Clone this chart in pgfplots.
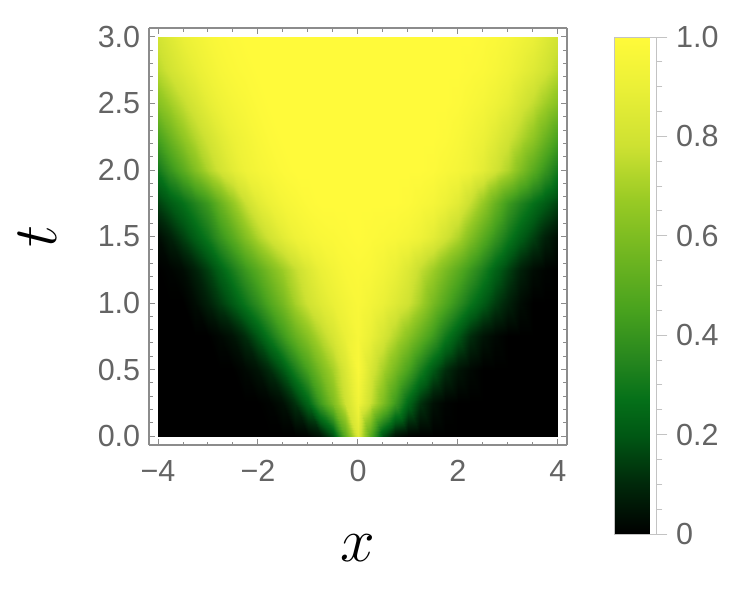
\documentclass[border=0pt]{standalone}
\usepackage{pgfplots}
\pgfplotsset{compat=1.18}
\usepackage{fontspec}
\setmainfont{Liberation Sans}
\definecolor{framegray}{RGB}{140,140,140}
\definecolor{labgray}{RGB}{100,100,100}
\definecolor{cbgray}{RGB}{195,195,195}

\begin{document}
\begin{tikzpicture}
\useasboundingbox (-59.6pt,-66.4pt) rectangle (239.2pt,178pt);
\begin{axis}[
    view={0}{90},
    scale only axis, width=167.2pt, height=166.8pt,
    xmin=-4, xmax=4, ymin=0, ymax=3, zmin=0, zmax=1,
    enlarge x limits=0.0225, enlarge y limits=0.0225,
    xtick={-4,-2,0,2,4}, xticklabels={−4,−2,0,2,4},
    ytick={0,0.5,1,1.5,2,2.5,3}, yticklabels={0.0,0.5,1.0,1.5,2.0,2.5,3.0},
    ztick=\empty,
    minor x tick num=3, minor y tick num=4,
    tick align=inside, xtick pos=both, ytick pos=both,
    major tick length=2.4pt, minor tick length=1.4pt,
    every tick/.style={framegray, line width=0.4pt},
    axis line style={framegray, line width=0.6pt},
    tick label style={font=\fontsize{12.2}{14}\selectfont, text=labgray},
    xticklabel style={yshift=-2.6pt},
    xlabel={$x$}, ylabel={$t$},
    xlabel style={font=\fontsize{23}{23}\selectfont, at={(axis description cs:0.5,-0.247)}, anchor=center},
    ylabel style={font=\fontsize{23}{23}\selectfont, at={(axis description cs:-0.268,0.5)}, anchor=center},
    colormap={avocado}{rgb255(0cm)=(0,0,0) rgb255(1cm)=(0,40,10) rgb255(2cm)=(0,88,20)
        rgb255(2.7cm)=(5,112,25) rgb255(3.5cm)=(38,134,30) rgb255(4.5cm)=(72,162,30)
        rgb255(5.5cm)=(108,180,32) rgb255(6.7cm)=(152,202,36) rgb255(7.8cm)=(205,225,50)
        rgb255(9cm)=(235,240,55) rgb255(10cm)=(255,250,58)},
    point meta min=0, point meta max=1,
    colorbar,
    colorbar style={
        at={(parent axis.north east)}, anchor=north west,
        xshift=10.4pt, yshift=-3.6pt,
        scale only axis, width=16.8pt, height=198.8pt,
        ytick={0,0.2,0.4,0.6,0.8,1}, yticklabels={0,0.2,0.4,0.6,0.8,1.0},
        minor y tick num=3,
        tick align=outside, ytick pos=right,
        major tick length=4.4pt, minor tick length=2.4pt,
        every tick/.style={cbgray, line width=0.4pt},
        axis line style={cbgray, line width=0.4pt},
        yticklabel style={font=\fontsize{12.2}{14}\selectfont, text=labgray},
    },
]
% density on a 0.25 x 0.25 grid (symmetric in x)
\addplot3[surf, shader=interp, mesh/rows=13, mesh/cols=33] coordinates {
(-4,0,0)(-3.75,0,0)(-3.5,0,0)(-3.25,0,0)(-3,0,0)(-2.75,0,0)(-2.5,0,0)(-2.25,0,0)(-2,0,0)(-1.75,0,0)(-1.5,0,0)(-1.25,0,0)(-1,0,0.01)(-0.75,0,0.05)(-0.5,0,0.18)(-0.25,0,0.50)(0,0,0.85)(0.25,0,0.50)(0.5,0,0.18)(0.75,0,0.05)(1,0,0.01)(1.25,0,0)(1.5,0,0)(1.75,0,0)(2,0,0)(2.25,0,0)(2.5,0,0)(2.75,0,0)(3,0,0)(3.25,0,0)(3.5,0,0)(3.75,0,0)(4,0,0)
(-4,0.25,0)(-3.75,0.25,0)(-3.5,0.25,0)(-3.25,0.25,0)(-3,0.25,0)(-2.75,0.25,0)(-2.5,0.25,0)(-2.25,0.25,0)(-2,0.25,0)(-1.75,0.25,0.01)(-1.5,0.25,0.04)(-1.25,0.25,0.12)(-1,0.25,0.24)(-0.75,0.25,0.42)(-0.5,0.25,0.60)(-0.25,0.25,0.78)(0,0.25,0.93)(0.25,0.25,0.78)(0.5,0.25,0.60)(0.75,0.25,0.42)(1,0.25,0.24)(1.25,0.25,0.12)(1.5,0.25,0.04)(1.75,0.25,0.01)(2,0.25,0)(2.25,0.25,0)(2.5,0.25,0)(2.75,0.25,0)(3,0.25,0)(3.25,0.25,0)(3.5,0.25,0)(3.75,0.25,0)(4,0.25,0)
(-4,0.5,0)(-3.75,0.5,0)(-3.5,0.5,0)(-3.25,0.5,0)(-3,0.5,0)(-2.75,0.5,0)(-2.5,0.5,0)(-2.25,0.5,0.02)(-2,0.5,0.05)(-1.75,0.5,0.11)(-1.5,0.5,0.20)(-1.25,0.5,0.32)(-1,0.5,0.45)(-0.75,0.5,0.58)(-0.5,0.5,0.70)(-0.25,0.5,0.83)(0,0.5,0.97)(0.25,0.5,0.83)(0.5,0.5,0.70)(0.75,0.5,0.58)(1,0.5,0.45)(1.25,0.5,0.32)(1.5,0.5,0.20)(1.75,0.5,0.11)(2,0.5,0.05)(2.25,0.5,0.02)(2.5,0.5,0)(2.75,0.5,0)(3,0.5,0)(3.25,0.5,0)(3.5,0.5,0)(3.75,0.5,0)(4,0.5,0)
(-4,0.75,0)(-3.75,0.75,0)(-3.5,0.75,0)(-3.25,0.75,0)(-3,0.75,0)(-2.75,0.75,0.02)(-2.5,0.75,0.05)(-2.25,0.75,0.11)(-2,0.75,0.20)(-1.75,0.75,0.30)(-1.5,0.75,0.42)(-1.25,0.75,0.53)(-1,0.75,0.63)(-0.75,0.75,0.73)(-0.5,0.75,0.82)(-0.25,0.75,0.90)(0,0.75,0.96)(0.25,0.75,0.90)(0.5,0.75,0.82)(0.75,0.75,0.73)(1,0.75,0.63)(1.25,0.75,0.53)(1.5,0.75,0.42)(1.75,0.75,0.30)(2,0.75,0.20)(2.25,0.75,0.11)(2.5,0.75,0.05)(2.75,0.75,0.02)(3,0.75,0)(3.25,0.75,0)(3.5,0.75,0)(3.75,0.75,0)(4,0.75,0)
(-4,1,0)(-3.75,1,0)(-3.5,1,0)(-3.25,1,0.03)(-3,1,0.08)(-2.75,1,0.14)(-2.5,1,0.21)(-2.25,1,0.29)(-2,1,0.38)(-1.75,1,0.48)(-1.5,1,0.58)(-1.25,1,0.70)(-1,1,0.79)(-0.75,1,0.85)(-0.5,1,0.90)(-0.25,1,0.94)(0,1,0.97)(0.25,1,0.94)(0.5,1,0.90)(0.75,1,0.85)(1,1,0.79)(1.25,1,0.70)(1.5,1,0.58)(1.75,1,0.48)(2,1,0.38)(2.25,1,0.29)(2.5,1,0.21)(2.75,1,0.14)(3,1,0.08)(3.25,1,0.03)(3.5,1,0)(3.75,1,0)(4,1,0)
(-4,1.25,0)(-3.75,1.25,0.01)(-3.5,1.25,0.03)(-3.25,1.25,0.08)(-3,1.25,0.15)(-2.75,1.25,0.23)(-2.5,1.25,0.32)(-2.25,1.25,0.41)(-2,1.25,0.50)(-1.75,1.25,0.59)(-1.5,1.25,0.68)(-1.25,1.25,0.76)(-1,1.25,0.84)(-0.75,1.25,0.90)(-0.5,1.25,0.94)(-0.25,1.25,0.97)(0,1.25,0.98)(0.25,1.25,0.97)(0.5,1.25,0.94)(0.75,1.25,0.90)(1,1.25,0.84)(1.25,1.25,0.76)(1.5,1.25,0.68)(1.75,1.25,0.59)(2,1.25,0.50)(2.25,1.25,0.41)(2.5,1.25,0.32)(2.75,1.25,0.23)(3,1.25,0.15)(3.25,1.25,0.08)(3.5,1.25,0.03)(3.75,1.25,0.01)(4,1.25,0)
(-4,1.5,0.03)(-3.75,1.5,0.08)(-3.5,1.5,0.15)(-3.25,1.5,0.22)(-3,1.5,0.30)(-2.75,1.5,0.40)(-2.5,1.5,0.50)(-2.25,1.5,0.61)(-2,1.5,0.72)(-1.75,1.5,0.80)(-1.5,1.5,0.87)(-1.25,1.5,0.92)(-1,1.5,0.95)(-0.75,1.5,0.97)(-0.5,1.5,0.98)(-0.25,1.5,0.99)(0,1.5,1)(0.25,1.5,0.99)(0.5,1.5,0.98)(0.75,1.5,0.97)(1,1.5,0.95)(1.25,1.5,0.92)(1.5,1.5,0.87)(1.75,1.5,0.80)(2,1.5,0.72)(2.25,1.5,0.61)(2.5,1.5,0.50)(2.75,1.5,0.40)(3,1.5,0.30)(3.25,1.5,0.22)(3.5,1.5,0.15)(3.75,1.5,0.08)(4,1.5,0.03)
(-4,1.75,0.15)(-3.75,1.75,0.21)(-3.5,1.75,0.27)(-3.25,1.75,0.34)(-3,1.75,0.42)(-2.75,1.75,0.54)(-2.5,1.75,0.66)(-2.25,1.75,0.77)(-2,1.75,0.86)(-1.75,1.75,0.91)(-1.5,1.75,0.95)(-1.25,1.75,0.97)(-1,1.75,0.99)(-0.75,1.75,1)(-0.5,1.75,1)(-0.25,1.75,1)(0,1.75,1)(0.25,1.75,1)(0.5,1.75,1)(0.75,1.75,1)(1,1.75,0.99)(1.25,1.75,0.97)(1.5,1.75,0.95)(1.75,1.75,0.91)(2,1.75,0.86)(2.25,1.75,0.77)(2.5,1.75,0.66)(2.75,1.75,0.54)(3,1.75,0.42)(3.25,1.75,0.34)(3.5,1.75,0.27)(3.75,1.75,0.21)(4,1.75,0.15)
(-4,2,0.30)(-3.75,2,0.40)(-3.5,2,0.50)(-3.25,2,0.61)(-3,2,0.72)(-2.75,2,0.80)(-2.5,2,0.87)(-2.25,2,0.92)(-2,2,0.95)(-1.75,2,0.97)(-1.5,2,0.99)(-1.25,2,1)(-1,2,1)(-0.75,2,1)(-0.5,2,1)(-0.25,2,1)(0,2,1)(0.25,2,1)(0.5,2,1)(0.75,2,1)(1,2,1)(1.25,2,1)(1.5,2,0.99)(1.75,2,0.97)(2,2,0.95)(2.25,2,0.92)(2.5,2,0.87)(2.75,2,0.80)(3,2,0.72)(3.25,2,0.61)(3.5,2,0.50)(3.75,2,0.40)(4,2,0.30)
(-4,2.25,0.45)(-3.75,2.25,0.55)(-3.5,2.25,0.65)(-3.25,2.25,0.73)(-3,2.25,0.80)(-2.75,2.25,0.86)(-2.5,2.25,0.91)(-2.25,2.25,0.94)(-2,2.25,0.97)(-1.75,2.25,0.99)(-1.5,2.25,1)(-1.25,2.25,1)(-1,2.25,1)(-0.75,2.25,1)(-0.5,2.25,1)(-0.25,2.25,1)(0,2.25,1)(0.25,2.25,1)(0.5,2.25,1)(0.75,2.25,1)(1,2.25,1)(1.25,2.25,1)(1.5,2.25,1)(1.75,2.25,0.99)(2,2.25,0.97)(2.25,2.25,0.94)(2.5,2.25,0.91)(2.75,2.25,0.86)(3,2.25,0.80)(3.25,2.25,0.73)(3.5,2.25,0.65)(3.75,2.25,0.55)(4,2.25,0.45)
(-4,2.5,0.62)(-3.75,2.5,0.69)(-3.5,2.5,0.76)(-3.25,2.5,0.82)(-3,2.5,0.88)(-2.75,2.5,0.92)(-2.5,2.5,0.95)(-2.25,2.5,0.97)(-2,2.5,0.99)(-1.75,2.5,1)(-1.5,2.5,1)(-1.25,2.5,1)(-1,2.5,1)(-0.75,2.5,1)(-0.5,2.5,1)(-0.25,2.5,1)(0,2.5,1)(0.25,2.5,1)(0.5,2.5,1)(0.75,2.5,1)(1,2.5,1)(1.25,2.5,1)(1.5,2.5,1)(1.75,2.5,1)(2,2.5,0.99)(2.25,2.5,0.97)(2.5,2.5,0.95)(2.75,2.5,0.92)(3,2.5,0.88)(3.25,2.5,0.82)(3.5,2.5,0.76)(3.75,2.5,0.69)(4,2.5,0.62)
(-4,2.75,0.74)(-3.75,2.75,0.80)(-3.5,2.75,0.85)(-3.25,2.75,0.89)(-3,2.75,0.93)(-2.75,2.75,0.96)(-2.5,2.75,0.98)(-2.25,2.75,0.99)(-2,2.75,1)(-1.75,2.75,1)(-1.5,2.75,1)(-1.25,2.75,1)(-1,2.75,1)(-0.75,2.75,1)(-0.5,2.75,1)(-0.25,2.75,1)(0,2.75,1)(0.25,2.75,1)(0.5,2.75,1)(0.75,2.75,1)(1,2.75,1)(1.25,2.75,1)(1.5,2.75,1)(1.75,2.75,1)(2,2.75,1)(2.25,2.75,0.99)(2.5,2.75,0.98)(2.75,2.75,0.96)(3,2.75,0.93)(3.25,2.75,0.89)(3.5,2.75,0.85)(3.75,2.75,0.80)(4,2.75,0.74)
(-4,3,0.80)(-3.75,3,0.85)(-3.5,3,0.90)(-3.25,3,0.93)(-3,3,0.96)(-2.75,3,0.98)(-2.5,3,0.99)(-2.25,3,1)(-2,3,1)(-1.75,3,1)(-1.5,3,1)(-1.25,3,1)(-1,3,1)(-0.75,3,1)(-0.5,3,1)(-0.25,3,1)(0,3,1)(0.25,3,1)(0.5,3,1)(0.75,3,1)(1,3,1)(1.25,3,1)(1.5,3,1)(1.75,3,1)(2,3,1)(2.25,3,1)(2.5,3,0.99)(2.75,3,0.98)(3,3,0.96)(3.25,3,0.93)(3.5,3,0.90)(3.75,3,0.85)(4,3,0.80)
};
\end{axis}
\end{tikzpicture}
\end{document}
